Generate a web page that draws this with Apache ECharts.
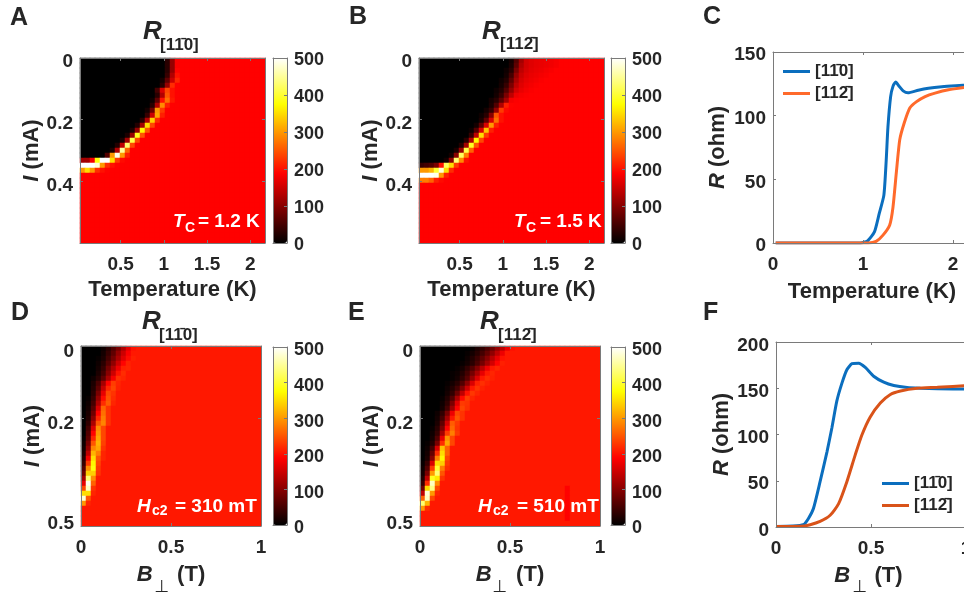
<!DOCTYPE html>
<html><head><meta charset="utf-8">
<style>html,body{margin:0;padding:0;background:#fff}#c{width:964px;height:594px}</style>
<script src="https://cdn.jsdelivr.net/npm/echarts@6/dist/echarts.min.js"></script>
</head><body><div id="c"></div>
<script>
// Heatmap rows: [leading zero cells, then read cell values]; remaining cells hold the plateau value.
const plateauAB = 188, plateauDE = 205;
const colsAB = 37, colsDE = 36;
const rowsA = [
[17,30,110,185],[17,30,110,185],[17,30,110,190],[17,40,130,200],[16,15,70,150,215],[16,30,110,220],
[15,50,160,240,200],[15,30,130,250,200],[14,10,70,200,270,205],[14,30,130,290,210],[13,15,80,300,230],
[13,40,150,310,210],[12,30,130,340,220],[11,25,120,350,240],[10,20,110,370,250],[9,20,110,390,250],
[8,20,120,410,240],[7,25,140,430,240],[6,20,130,450,260],[5,60,300,490,300,210],
[0,120,120,180,380,500,500,350,230,195],[0,500,500,500,480,300,220,200,190],[0,300,350,300,220,200,190]
];
const rowsB = [
[18,15,60,120,155,165,170,172,175,178,182],[18,20,70,130,155,165,170,172,175,178,182],
[17,10,30,90,140,158,168,172,175,180,184],[17,15,50,110,150,165,172,176,180,184],
[16,10,25,70,125,158,170,176,180,185],[16,15,40,90,140,165,175,180,185],
[15,10,25,60,110,155,172,180,185],[15,15,40,90,140,175,182,186],[14,15,30,70,120,180,186],
[14,20,60,130,210,190],[13,15,40,110,230,195],[12,10,30,100,250,200],[12,20,70,160,270,200],
[11,15,70,160,300,210],[10,10,60,160,330,210],[10,40,140,350,230],[9,30,130,370,240],
[8,25,120,390,250],[7,20,110,410,260],[6,15,100,420,280],[5,15,100,430,290,200],
[0,40,50,60,90,200,420,350,230],[0,300,300,320,400,480,350,220],[0,500,500,500,490,300,210],[0,280,280,260,210,195]
];
const rowsD = [
[4,10,30,60,90,130,170,200],[4,15,40,70,110,150,185],[3,5,20,50,85,125,165,195,210],[3,10,30,65,105,150,190,212],
[3,15,40,85,130,175,210,214],[3,20,50,100,150,200,220],[2,10,30,70,125,180,222,215],[2,20,55,120,190,232,215],
[2,25,70,145,215,238,212],[2,30,90,170,240,225],[1,5,40,110,195,248,220],[1,10,50,130,220,255,215],
[1,15,65,160,262,225],[1,20,80,190,270,225],[1,25,100,215,280,225],[1,35,125,250,285,225],[1,50,160,290,240],
[1,60,190,300,240],[0,5,70,215,310,240],[0,10,90,250,320,235],[0,15,110,285,310,225],[0,20,140,320,280,215],
[0,30,180,350,250,215],[0,40,230,370,240],[0,60,290,380,230],[0,80,340,340,225],[0,120,430,290],[0,170,490,260],
[0,240,470,225],[0,350,350,215],[0,480,250],[0,300,215]
];
const rowsE = [
[10,5,20,35,55,80,110,140,175,200],[9,5,15,30,50,75,105,140,175,205],[9,10,25,45,70,100,135,170,200],
[8,5,15,30,55,85,120,155,190,210],[7,5,15,35,60,95,135,175,205,215],[6,5,10,25,50,85,125,170,205,215],
[6,5,15,35,65,110,160,205,220,212],[5,5,15,30,60,105,160,210,222,212],[5,10,25,50,95,150,205,225,212],
[5,15,35,80,140,200,228,215],[4,5,25,60,125,195,232,215],[4,10,35,90,165,230,225],[4,15,50,115,190,238,222],
[3,10,35,90,175,240,225],[3,15,50,120,205,250,225],[3,20,70,155,255,230],[2,5,30,90,190,265,225],
[2,10,40,120,230,280,230],[2,15,60,170,295,240],[1,5,25,90,220,310,240],[1,10,50,160,330,260],[1,15,75,220,350,260],
[1,20,100,280,370,240],[0,5,40,160,350,340,230],[0,10,60,230,400,280,220],[0,15,90,300,430,250],[0,25,140,390,360,225],
[0,40,220,470,290],[0,80,350,440,240],[0,140,480,300,215],[0,260,470,240],[0,430,320],[0,300,220]
];
// [column, row, value] cells of the pure-red streak in panel E
const streakE = [[29,28,188],[29,29,188],[29,30,188],[29,31,188],[29,32,188],[29,33,188],[29,34,188]];

const tempTicks = [0.5,1,1.5,2], fieldTicks = [0,0.5,1];
const currentTicksT = [0,0.2,0.4], currentTicksB = [0,0.2,0.5];
const barTicks = [0,100,200,300,400,500];
const hotColors = ['#000000','#550000','#aa0000','#ff0000','#ff5500','#ffaa00','#ffff00','#ffff80','#ffffff'];

const tempBlue = [[0.03,0],[0.97,0],[1.05,1.6],[1.127,8.7],[1.18,23],[1.232,37.6],[1.258,65],[1.277,91],[1.307,115],[1.333,123],[1.363,126.4],[1.397,123.5],[1.446,119.5],[1.5,118],[1.614,120],[1.727,121.5],[1.876,122.7],[2.03,123.5],[2.2,124.2]];
const tempOrange = [[0.03,0],[1.06,0],[1.146,1.3],[1.22,6],[1.296,14],[1.333,28],[1.37,55],[1.408,81],[1.457,94],[1.52,106],[1.595,111],[1.69,115],[1.8,117.7],[1.95,120.3],[2.2,122.8]];
const fieldBlue = [[0,0.5],[0.088,1],[0.144,2.5],[0.17,9],[0.197,20],[0.232,49],[0.268,81],[0.294,107],[0.32,136],[0.347,155.5],[0.373,170],[0.4,176.5],[0.435,177],[0.47,172.5],[0.514,163],[0.567,156.6],[0.62,153],[0.69,150.8],[0.76,150],[0.85,149.4],[1.02,149]];
const fieldOrange = [[0,0.5],[0.127,0.7],[0.18,2.5],[0.232,6],[0.285,12.7],[0.329,25],[0.373,49],[0.417,78],[0.452,99.5],[0.496,119],[0.549,134],[0.6,143],[0.655,147],[0.743,150],[0.849,151],[1.02,153]];
const nameA = '[11\u03040]', nameB = '[112\u0304]';

const FONT = '"Liberation Sans", Arial, sans-serif', INK = '#262626', FRAME = '#7a7a7a';
const grid = [], xAxis = [], yAxis = [], series = [], visualMap = [], graphic = [];

function text(t, x, y, size, o) {
  o = o || {};
  graphic.push({type:'text', x, y, z:20, silent:true, style:{text:t, fill:o.fill||INK,
    font:(o.italic?'italic ':'')+(o.normal?'':'bold ')+size+'px '+(o.family||FONT),
    align:o.align||'left', verticalAlign:'middle'}});
}
const nameRich = {i:{fontStyle:'italic',fontWeight:'bold',fontSize:22,fontFamily:FONT,color:INK}};
function nameStyle(){return {fontFamily:FONT,fontWeight:'bold',fontSize:22,color:INK,rich:nameRich};}
const labelStyle = (size,extra)=>Object.assign({fontFamily:FONT,fontWeight:'bold',fontSize:size,color:INK,hideOverlap:false},extra||{});
// y tick labels sit a little below their ticks in the reference; a rich token's padding nudges them.
function nudged(size, margin, ticks, down, upValue, up){
  const st = p=>({fontFamily:FONT,fontWeight:'bold',fontSize:size,color:INK,padding:p});
  return labelStyle(size,{margin,customValues:ticks,
    formatter:v=>(upValue!==undefined&&+v===upValue)?'{u|'+v+'}':'{d|'+v+'}',
    rich:{d:st([down,0,0,0]),u:st([0,0,up||0,0])}});
}

function frameAxes(gi, xr, yr, xTicks, yTicks, xName, yName, xGap, yGap, yInverse, yLabel){
  const xMain = xAxis.length;
  xAxis.push({gridIndex:gi,type:'value',position:'bottom',min:xr[0],max:xr[1],z:6,
    name:xName,nameLocation:'middle',nameGap:xGap,nameTextStyle:nameStyle(),
    axisLine:{show:true,onZero:false,lineStyle:{color:FRAME,width:1}},
    axisTick:{show:true,inside:true,length:3,customValues:xTicks,lineStyle:{color:FRAME}},
    axisLabel:labelStyle(19,{margin:12,customValues:xTicks}),splitLine:{show:false}});
  xAxis.push({gridIndex:gi,type:'value',position:'top',min:xr[0],max:xr[1],z:6,
    axisLine:{show:true,onZero:false,lineStyle:{color:FRAME,width:1}},
    axisTick:{show:true,inside:true,length:3,customValues:xTicks,lineStyle:{color:FRAME}},
    axisLabel:{show:false},splitLine:{show:false}});
  const yMain = yAxis.length;
  yAxis.push({gridIndex:gi,type:'value',position:'left',min:yr[0],max:yr[1],inverse:yInverse,z:6,
    name:yName,nameLocation:'middle',nameGap:yGap,nameTextStyle:nameStyle(),
    axisLine:{show:true,onZero:false,lineStyle:{color:FRAME,width:1}},
    axisTick:{show:true,inside:true,length:3,customValues:yTicks,lineStyle:{color:FRAME}},
    axisLabel:yLabel,splitLine:{show:false}});
  yAxis.push({gridIndex:gi,type:'value',position:'right',min:yr[0],max:yr[1],inverse:yInverse,z:6,
    axisLine:{show:true,onZero:false,lineStyle:{color:FRAME,width:1}},
    axisTick:{show:true,inside:true,length:3,customValues:yTicks,lineStyle:{color:FRAME}},
    axisLabel:{show:false},splitLine:{show:false}});
  return {xMain,yMain};
}
function cells(rows, ncols, plateau, extra){
  const out = [];
  for (let r=0;r<ncols;r++){
    const row = rows[r]||[0];
    const vals = new Array(row[0]).fill(0).concat(row.slice(1));
    while(vals.length<ncols) vals.push(plateau);
    vals.slice(0,ncols).forEach((v,c)=>out.push([c,r,v]));
  }
  (extra||[]).forEach(e=>{out[e[1]*ncols+e[0]][2]=e[2];});
  return out;
}
const seq = n=>Array.from({length:n},(_,i)=>String(i));
function heat(box, bar, rows, ncols, plateau, xr, yr, xTicks, yTicks, xName, yName, xGap, yGap, yLabel, barDown, extra){
  const gi = grid.length;
  grid.push({left:box[0],top:box[1],width:box[2],height:box[3],outerBoundsMode:'none'});
  frameAxes(gi,xr,yr,xTicks,yTicks,xName,yName,xGap,yGap,true,yLabel);
  const xi = xAxis.length, yi = yAxis.length;
  xAxis.push({gridIndex:gi,type:'category',data:seq(ncols),show:false});
  yAxis.push({gridIndex:gi,type:'category',data:seq(ncols),show:false,inverse:true});
  const si = series.length;
  series.push({type:'heatmap',xAxisIndex:xi,yAxisIndex:yi,data:cells(rows,ncols,plateau,extra),silent:true,itemStyle:{borderWidth:0}});
  visualMap.push({type:'continuous',seriesIndex:si,min:0,max:500,left:bar[0],top:bar[1],itemWidth:14,itemHeight:bar[2],padding:0,
    calculable:false,hoverLink:false,showLabel:false,inRange:{color:hotColors},z:4});
  // colour-bar frame and its 0-500 scale
  const bi = grid.length;
  grid.push({left:bar[0],top:bar[1],width:14,height:bar[2],outerBoundsMode:'none'});
  const plain = {axisLine:{show:true,onZero:false,lineStyle:{color:FRAME}},axisTick:{show:false},axisLabel:{show:false},splitLine:{show:false}};
  xAxis.push(Object.assign({gridIndex:bi,type:'value',position:'bottom',min:0,max:1,z:6},plain));
  xAxis.push(Object.assign({gridIndex:bi,type:'value',position:'top',min:0,max:1,z:6},plain));
  yAxis.push(Object.assign({gridIndex:bi,type:'value',position:'left',min:0,max:500,z:6},plain));
  yAxis.push({gridIndex:bi,type:'value',position:'right',min:0,max:500,z:6,axisLine:{show:true,onZero:false,lineStyle:{color:FRAME}},
    axisTick:{show:true,inside:true,length:3,customValues:barTicks,lineStyle:{color:FRAME}},
    axisLabel:nudged(18,7,barTicks,barDown),splitLine:{show:false}});
}
function lines(box, xr, yr, xTicks, yTicks, xName, yName, xGap, yGap, yLabel, data, colors, suffix){
  const gi = grid.length;
  grid.push({left:box[0],top:box[1],width:box[2],height:box[3],outerBoundsMode:'none'});
  const a = frameAxes(gi,xr,yr,xTicks,yTicks,xName,yName,xGap,yGap,false,yLabel);
  const names=[nameA+suffix,nameB+suffix];
  data.forEach((d,i)=>series.push({type:'line',name:names[i],xAxisIndex:a.xMain,yAxisIndex:a.yMain,data:d,showSymbol:false,symbol:'none',
    lineStyle:{width:3,color:colors[i]},itemStyle:{color:colors[i]},smooth:0.2,z:3,silent:true}));
  return names;
}
const T='Temperature (K)', I='{i|I} (mA)', R='{i|R} (ohm)', B='{i|B}    (T)';
const tempX=[0.03,2.17];
const yLabT=()=>nudged(19,7,currentTicksT,8), yLabB=()=>nudged(19,7,currentTicksB,12,0.5,4);
heat([80,58,185,185],[273,58,185],rowsA,colsAB,plateauAB,tempX,[0,0.6],tempTicks,currentTicksT,T,I,36,37,yLabT(),5);
heat([419,58,185,185],[611,58,185],rowsB,colsAB,plateauAB,tempX,[0,0.6],tempTicks,currentTicksT,T,I,36,37,yLabT(),5);
heat([81,346,180,180],[273,347,178],rowsD,colsDE,plateauDE,[0,1],[0,0.5],fieldTicks,currentTicksB,B,I,38,37,yLabB(),7);
heat([420,346,180,180],[611,347,178],rowsE,colsDE,plateauDE,[0,1],[0,0.5],fieldTicks,currentTicksB,B,I,38,37,yLabB(),7,streakE);
const legC = lines([773,52,198,191],[0,2.2],[0,150],[0,1,2],[0,50,100,150],T,R,38,44,nudged(19,7,[0,50,100,150],6),[tempBlue,tempOrange],['#0B6EBE','#FF6A2B'],'');
const legF = lines([776,342,197,185],[0,1.0368],[0,200],[0,0.5,1],[0,50,100,150,200],B+'  ',R,38,42,nudged(19,7,[0,50,100,150,200],7),[fieldBlue,fieldOrange],['#0B6EBE','#D95319'],' ');

// Panel letters
[['A',10,18],['B',349,17],['C',703,17],['D',11,313],['E',348,313],['F',703,313]].forEach(p=>text(p[0],p[1],p[2],25,{family:FONT}));
// Panel titles
[[143,32,160,45,nameA],[482,32,500,44,nameB],[142,322,159,335,nameA],[480,322,498,335,nameB]].forEach(p=>{
  text('R',p[0],p[1],26,{italic:true}); text(p[4],p[2],p[3],17);
});
// In-plot notes
[['T','C','= 1.2 K',173,222,185,228,198],['T','C','= 1.5 K',514,222,526,228,540],
 ['H','c2','= 310 mT',137,507,152,511,175],['H','c2','= 510 mT',478,507,493,511,517]].forEach(n=>{
  text(n[0],n[3],n[4],19,{italic:true,fill:'#fff'});
  text(n[1],n[5],n[6],14,{fill:'#fff'});
  text(n[2],n[7],n[4],19,{fill:'#fff'});
});
// perpendicular sign under the field axis names
[[162,588],[500,588],[860,588]].forEach(p=>text('\u22A5',p[0],p[1],17,{family:'"DejaVu Sans"',normal:true,align:'center'}));

const legendText={fontFamily:FONT,fontWeight:'bold',fontSize:17,color:INK};
const option={animation:false,backgroundColor:'#fff',grid,xAxis,yAxis,series,visualMap,
  legend:[
   {data:legC,orient:'vertical',left:783,top:63,padding:0,itemWidth:27,itemHeight:3,itemGap:5,textStyle:legendText,icon:'rect',selectedMode:false},
   {data:legF,orient:'vertical',left:882,top:475,padding:0,itemWidth:27,itemHeight:3,itemGap:5,textStyle:legendText,icon:'rect',selectedMode:false}
  ],
  graphic:{elements:graphic}};
echarts.init(document.getElementById('c'),null,{renderer:'canvas'}).setOption(option);
</script></body></html>
